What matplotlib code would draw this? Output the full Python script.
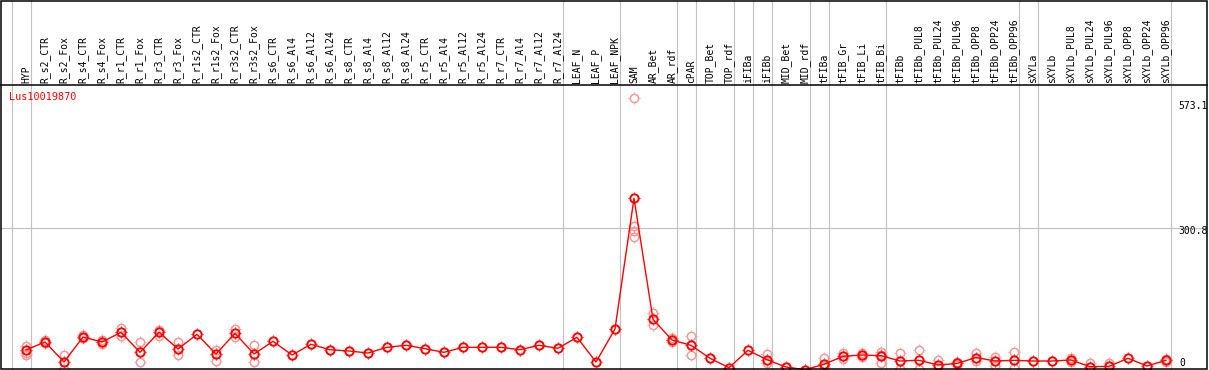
import numpy as np
import matplotlib.pyplot as plt
from matplotlib.path import Path
from matplotlib.patches import Rectangle

# --- Data ---
GENE = "Lus10019870"

samples = ["HYP", "R_s2_CTR", "R_s2_Fox", "R_s4_CTR", "R_s4_Fox", "R_r1_CTR", "R_r1_Fox",
           "R_r3_CTR", "R_r3_Fox", "R_r1s2_CTR", "R_r1s2_Fox", "R_r3s2_CTR", "R_r3s2_Fox",
           "R_s6_CTR", "R_s6_Al4", "R_s6_Al12", "R_s6_Al24", "R_s8_CTR", "R_s8_Al4",
           "R_s8_Al12", "R_s8_Al24", "R_r5_CTR", "R_r5_Al4", "R_r5_Al12", "R_r5_Al24",
           "R_r7_CTR", "R_r7_Al4", "R_r7_Al12", "R_r7_Al24", "LEAF_N", "LEAF_P", "LEAF_NPK",
           "SAM", "AR_Bet", "AR_rdf", "cPAR", "TOP_Bet", "TOP_rdf", "iFIBa", "iFIBb",
           "MID_Bet", "MID_rdf", "tFIBa", "tFIB_Gr", "tFIB_Li", "tFIB_Bi", "tFIBb",
           "tFIBb_PUL8", "tFIBb_PUL24", "tFIBb_PUL96", "tFIBb_OPP8", "tFIBb_OPP24",
           "tFIBb_OPP96", "sXYLa", "sXYLb", "sXYLb_PUL8", "sXYLb_PUL24", "sXYLb_PUL96",
           "sXYLb_OPP8", "sXYLb_OPP24", "sXYLb_OPP96"]

means = [34.9, 52.3, 8.7, 63.2, 52.3, 73.4, 29.8, 73.4, 37.0, 69.0, 26.1, 71.2, 26.1,
         53.8, 24.0, 47.3, 35.5, 32.7, 28.3, 40.7, 45.1, 37.7, 29.8, 40.7, 40.7,
         40.7, 35.5, 45.1, 38.6, 62.5, 8.7, 80.6,
         365.3, 101.7, 56.6, 45.1, 16.8, -3.7, 34.2, 13.7,
         -2.2, -8.1, 3.7, 21.1, 24.0, 22.4, 10.9,
         12.4, 2.2, 5.5, 18.5, 10.9,
         12.4, 10.9, 10.9, 13.1, -1.5, -0.7,
         16.8, 0.0, 12.4]

replicates = [[43.6, 27.7, 24.0], [56.6, 49.4], [24.0, -6.5], [66.9, 61.0], [56.6, 47.3],
              [82.8, 64.7], [52.3, 8.7], [78.4, 65.3], [52.3, 23.3], [], [34.9, 10.9],
              [79.9, 63.8], [45.7, 8.1],
              [], [], [], [], [], [], [], [], [], [], [], [], [], [], [], [],
              [], [], [],
              [583.0, 305.6, 294.7, 280.3], [114.8, 89.3], [60.3, 52.9], [64.7, 24.6],
              [], [], [], [25.5, 5.9],
              [], [], [17.4, -1.5], [29.0, 14.6], [29.0, 19.0], [31.1, 24.0, 5.9],
              [29.0, -7.2],
              [34.2, -7.2], [12.4, -1.5], [8.7, 1.5], [27.7, 10.2], [19.0, 0.0],
              [30.5, -4.4], [], [], [18.1, 8.7], [5.9], [7.2],
              [], [], [15.9, 8.1]]

group_sizes = [1, 28, 3, 3, 1, 2, 1, 1, 2, 1, 3, 7, 1, 7]
y_ticks = [0, 300.8, 573.1]

# --- Figure ---
W, H = 1209, 370
HEADER = 85
fig = plt.figure(figsize=(W / 100, H / 100), dpi=100)
ax = fig.add_axes([1 / W, 0, 1206 / W, (H - HEADER) / H])
ax.set_xlim(-25 / 19, 1181 / 19)
ax.set_ylim(-8.7, 612)
ax.set_xticks([])
ax.set_yticks([])
for s in ["left", "right", "bottom"]:
    ax.spines[s].set_visible(False)
ax.spines["top"].set_linewidth(1.1)

# outer frame
fig.add_artist(Rectangle((1 / W, 1 / H), 1206 / W, 368 / H, transform=fig.transFigure,
                         fill=False, edgecolor="black", linewidth=1.1))

GRAY = "#c0c0c0"
ymax_ext = H / (H - HEADER)
bounds = np.concatenate([[0], np.cumsum(group_sizes)]) - 1
for b in bounds:
    ax.axvline(b + 0.25, ymin=0, ymax=ymax_ext, color=GRAY, lw=0.8, clip_on=False, zorder=0)
for t in y_ticks[1:-1]:
    ax.axhline(t, color=GRAY, lw=0.8, zorder=0)

# circle markers get four tiny ticks around them
TK = 1.3
tick_marker = Path([(1, 0), (TK, 0), (-1, 0), (-TK, 0), (0, 1), (0, TK), (0, -1), (0, -TK)],
                   [Path.MOVETO, Path.LINETO] * 4)
MS = 6.0  # circle size in points


def rings(xs, ys, mc, mew, z, **kw):
    ax.plot(xs, ys, marker="o", ms=MS, mfc="none", mec=mc, mew=mew, clip_on=False,
            zorder=z, **kw)
    ax.plot(xs, ys, ls="none", marker=tick_marker, ms=MS * TK + mew, mec=mc, mew=0.8,
            clip_on=False, zorder=z)


x = np.arange(len(samples))
rx = [i for i, r in enumerate(replicates) for _ in r]
ry = [v for r in replicates for v in r]
rings(rx, ry, "#f09a9a", 1.1, 2, ls="none")
rings(x, means, "red", 1.4, 3, color="red", lw=1.0)

# header labels
mono = "DejaVu Sans Mono"
for i, name in enumerate(samples):
    ax.annotate(name, xy=(i, 1), xycoords=ax.get_xaxis_transform(), xytext=(0, 2),
                textcoords="offset pixels", rotation=90, ha="center", va="bottom",
                family=mono, fontsize=7, annotation_clip=False)

# y labels on the right
for t in y_ticks:
    if t == 0:
        ax.annotate("0", xy=(0.976, t), xycoords=ax.get_yaxis_transform(), xytext=(1, 0),
                    textcoords="offset pixels", ha="left", va="baseline",
                    family=mono, fontsize=7)
    else:
        ax.annotate(f"{t:.1f}", xy=(0.976, t), xycoords=ax.get_yaxis_transform(),
                    xytext=(0, 2), textcoords="offset pixels", ha="left", va="top",
                    family=mono, fontsize=7)

ax.annotate(GENE, xy=(0, 1), xycoords="axes fraction", xytext=(8, -12),
            textcoords="offset pixels", ha="left", va="center", color="red",
            family=mono, fontsize=7.3)

fig.savefig("out.png", dpi=100)
